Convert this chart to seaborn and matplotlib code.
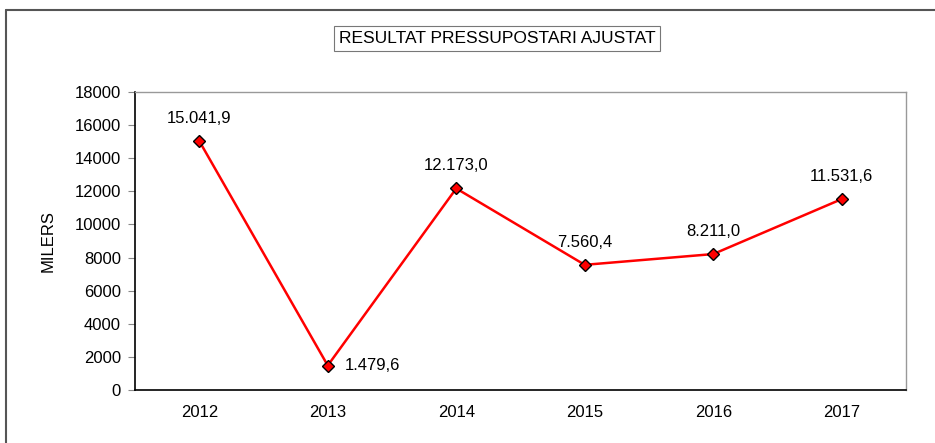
import matplotlib
matplotlib.use("Agg")
import matplotlib.pyplot as plt
import numpy as np
import pandas as pd
import seaborn as sns
from matplotlib.lines import Line2D

years = ["2012", "2013", "2014", "2015", "2016", "2017"]
values = [15041.9, 1479.6, 12173.0, 7560.4, 8211.0, 11531.6]
point_labels = ["15.041,9", "1.479,6", "12.173,0", "7.560,4", "8.211,0", "11.531,6"]
y_ticks = [0, 2000, 4000, 6000, 8000, 10000, 12000, 14000, 16000, 18000]

df = pd.DataFrame({"pos": np.arange(len(years)), "value": values})

sns.set_theme(style="white")
plt.rcParams["font.family"] = ["Liberation Sans", "DejaVu Sans"]

fig = plt.figure(figsize=(9.35, 4.43), dpi=100)
ax = fig.add_axes([135 / 935, 1 - 390 / 443, (906 - 135) / 935, (390 - 92) / 443])

sns.lineplot(data=df, x="pos", y="value", ax=ax, color="#ff0000", linewidth=1.8,
             marker="D", markersize=6.5, markerfacecolor="#ff0000",
             markeredgecolor="black", markeredgewidth=1.0)

for i, (v, lab) in enumerate(zip(values, point_labels)):
    if i == 1:
        ax.annotate(lab, (i, v), xytext=(12, 0), textcoords="offset points",
                    ha="left", va="center", fontsize=12, color="black")
    else:
        ax.annotate(lab, (i, v), xytext=(0, 11), textcoords="offset points",
                    ha="center", va="bottom", fontsize=12, color="black")

ax.set_xlim(-0.5, len(years) - 0.5)
ax.set_ylim(0, 18000)
ax.set_yticks(y_ticks)
ax.set_yticklabels([str(t) for t in y_ticks], fontsize=12)
ax.set_xticks(np.arange(len(years)))
ax.set_xticklabels(years, fontsize=12)
ax.set_xticks(np.arange(len(years) + 1) - 0.5, minor=True)
ax.tick_params(axis="x", which="major", length=0, pad=11, colors="black")
ax.tick_params(axis="x", which="minor", direction="in", length=5, color="#888888", width=0.8)
ax.tick_params(axis="y", which="major", direction="out", length=5, color="#888888",
               width=0.8, pad=5, left=True, labelcolor="black")
ax.set_xlabel("")
ax.set_ylabel("MILERS", fontsize=12, labelpad=14, color="black")

for side in ["left", "bottom"]:
    ax.spines[side].set_color("black")
    ax.spines[side].set_linewidth(1.2)
for side in ["top", "right"]:
    ax.spines[side].set_color("#999999")
    ax.spines[side].set_linewidth(1.0)

fig.text(497 / 935, 1 - 38.5 / 443, "RESULTAT PRESSUPOSTARI AJUSTAT", ha="center",
         va="center", fontsize=12.5, color="black",
         bbox=dict(boxstyle="square,pad=0.28", facecolor="white", edgecolor="#777777",
                   linewidth=0.8))

# outer frame: top and left edges only
fig.add_artist(Line2D([6 / 935, 1], [1 - 9.5 / 443, 1 - 9.5 / 443],
                      transform=fig.transFigure, color="#555555", linewidth=1.5))
fig.add_artist(Line2D([6 / 935, 6 / 935], [0, 1 - 9.5 / 443],
                      transform=fig.transFigure, color="#555555", linewidth=1.5))

fig.savefig("out.png", dpi=100)
